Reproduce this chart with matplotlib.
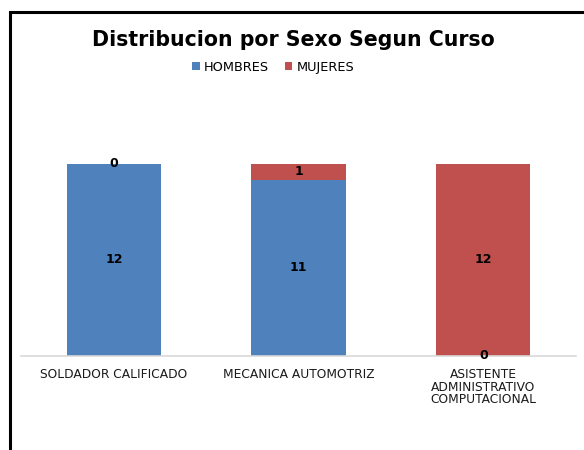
import matplotlib.pyplot as plt
from matplotlib.patches import Rectangle
import numpy as np

cursos = ['SOLDADOR CALIFICADO', 'MECANICA AUTOMOTRIZ',
          'ASISTENTE\nADMINISTRATIVO\nCOMPUTACIONAL']
hombres = [12, 11, 0]
mujeres = [0, 1, 12]


def main():
    fig = plt.figure(figsize=(5.84, 4.5), dpi=100)
    # marco negro del grafico
    fig.patches.append(Rectangle((0.0175, -0.1), 1.2, 0.1 + 0.973, transform=fig.transFigure,
                                 fill=False, edgecolor='black', linewidth=2.2))
    ax = fig.add_axes([0.0368, 0.2089, 0.949, 0.4978])

    x = np.arange(len(cursos))
    b1 = ax.bar(x, hombres, width=0.51, color='#4F81BD', label='HOMBRES')
    b2 = ax.bar(x, mujeres, width=0.51, bottom=hombres, color='#C0504D', label='MUJERES')

    for i in range(len(cursos)):
        ax.text(x[i], hombres[i] / 2, str(hombres[i]), ha='center', va='center',
                fontsize=9, fontweight='bold')
        ax.text(x[i], hombres[i] + mujeres[i] / 2, str(mujeres[i]), ha='center', va='center',
                fontsize=9, fontweight='bold')

    ax.set_xlim(-0.5, 2.5)
    ax.set_ylim(0, 14)
    ax.set_yticks([])
    ax.set_xticks(x)
    ax.set_xticklabels(cursos, fontsize=8.8, color='#1a1a1a', linespacing=0.95)
    ax.tick_params(axis='x', length=0, pad=9)
    for s in ['top', 'right', 'left']:
        ax.spines[s].set_visible(False)
    ax.spines['bottom'].set_color('#D9D9D9')
    ax.spines['bottom'].set_linewidth(1.2)

    fig.text(0.503, 0.91, 'Distribucion por Sexo Segun Curso', ha='center', va='center',
             fontsize=14.8, fontweight='bold')
    fig.legend(handles=[b1, b2], loc='center', bbox_to_anchor=(0.468, 0.851), ncol=2, frameon=False,
               fontsize=9.3, handlelength=0.6, handleheight=0.6, handletextpad=0.3, columnspacing=1.2)

    fig.savefig('out.png', dpi=100)


if __name__ == '__main__':
    main()
